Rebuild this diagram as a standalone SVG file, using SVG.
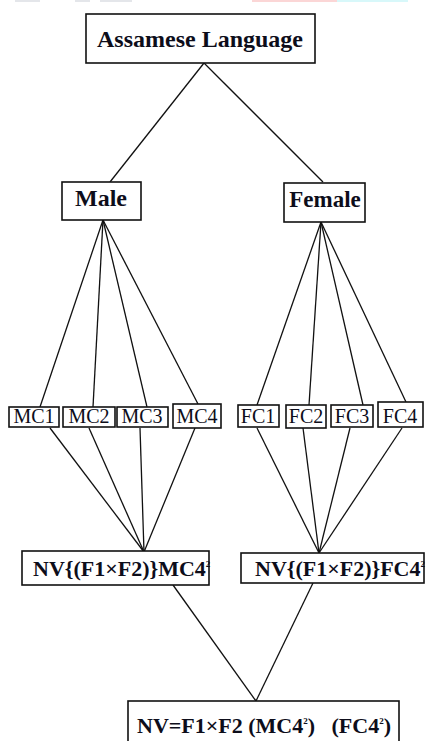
<svg xmlns="http://www.w3.org/2000/svg" width="426" height="741" viewBox="0 0 426 741">
<style>
.box{fill:#fff;stroke:#111;stroke-width:1.6}
.ln{stroke:#111;stroke-width:1.3;fill:none}
.b{font-family:"Liberation Serif","Times New Roman",serif;font-weight:bold;fill:#0d0d1a}
.r{font-family:"Liberation Serif","Times New Roman",serif;fill:#0d0d1a}
</style>
<rect x="0" y="0" width="426" height="741" fill="#fff"/>
<g id="watermark">
<rect x="15" y="0" width="25" height="2" fill="#e4e6ea"/>
<rect x="75" y="0" width="15" height="2" fill="#e4e6ea"/>
<rect x="100" y="0" width="32" height="2" fill="#e4e6ea"/>
<rect x="252" y="0" width="85" height="2" fill="#fbd6d6"/>
<rect x="337" y="0" width="71" height="2" fill="#d8f8fa"/>
</g>
<g id="connectors">
<line class="ln" x1="204" y1="63" x2="110" y2="182"/>
<line class="ln" x1="204" y1="63" x2="323" y2="182"/>
<line class="ln" x1="103" y1="220" x2="40" y2="407"/>
<line class="ln" x1="103" y1="220" x2="93" y2="407"/>
<line class="ln" x1="103" y1="220" x2="147" y2="407"/>
<line class="ln" x1="103" y1="220" x2="198" y2="404"/>
<line class="ln" x1="321" y1="222" x2="257" y2="405"/>
<line class="ln" x1="321" y1="222" x2="309" y2="405"/>
<line class="ln" x1="321" y1="222" x2="363" y2="405"/>
<line class="ln" x1="321" y1="222" x2="406" y2="402"/>
<line class="ln" x1="50" y1="428" x2="144" y2="552"/>
<line class="ln" x1="89" y1="428" x2="144" y2="552"/>
<line class="ln" x1="140" y1="428" x2="144" y2="552"/>
<line class="ln" x1="195" y1="428" x2="144" y2="552"/>
<line class="ln" x1="257" y1="428" x2="319" y2="553"/>
<line class="ln" x1="303" y1="428" x2="319" y2="553"/>
<line class="ln" x1="350" y1="428" x2="319" y2="553"/>
<line class="ln" x1="402" y1="428" x2="319" y2="553"/>
<line class="ln" x1="173" y1="585" x2="256" y2="701"/>
<line class="ln" x1="313" y1="583" x2="256" y2="701"/>
</g>
<g id="assamese">
<rect class="box" x="86" y="14" width="229" height="49"/>
<text class="b" x="200" y="47" font-size="24" text-anchor="middle">Assamese Language</text>
</g>
<g id="male">
<rect class="box" x="62" y="182" width="79" height="38"/>
<text class="b" x="101" y="206" font-size="24" text-anchor="middle">Male</text>
</g>
<g id="female">
<rect class="box" x="284" y="183" width="81" height="39"/>
<text class="b" x="325" y="207" font-size="23" text-anchor="middle">Female</text>
</g>
<g id="mc1">
<rect class="box" x="9" y="407" width="50" height="20"/>
<text class="r" x="34" y="423" font-size="20" text-anchor="middle">MC1</text>
</g>
<g id="mc2">
<rect class="box" x="63" y="407" width="52" height="20"/>
<text class="r" x="89" y="423" font-size="20" text-anchor="middle">MC2</text>
</g>
<g id="mc3">
<rect class="box" x="117" y="407" width="51" height="20"/>
<text class="r" x="142" y="423" font-size="20" text-anchor="middle">MC3</text>
</g>
<g id="mc4">
<rect class="box" x="173" y="404" width="48" height="24"/>
<text class="r" x="197" y="423" font-size="20" text-anchor="middle">MC4</text>
</g>
<g id="fc1">
<rect class="box" x="238" y="405" width="41" height="22"/>
<text class="r" x="258" y="423" font-size="20" text-anchor="middle">FC1</text>
</g>
<g id="fc2">
<rect class="box" x="286" y="405" width="40" height="23"/>
<text class="r" x="306" y="423" font-size="20" text-anchor="middle">FC2</text>
</g>
<g id="fc3">
<rect class="box" x="331" y="405" width="42" height="22"/>
<text class="r" x="352" y="423" font-size="20" text-anchor="middle">FC3</text>
</g>
<g id="fc4">
<rect class="box" x="378" y="402" width="45" height="25"/>
<text class="r" x="400" y="423" font-size="20" text-anchor="middle">FC4</text>
</g>
<g id="nv-male">
<rect class="box" x="22" y="551" width="187" height="34"/>
<text class="b" x="33" y="576" font-size="22">NV{(F1×F2)}MC4<tspan font-size="9" dy="-9">2</tspan></text>
</g>
<g id="nv-female">
<rect class="box" x="241" y="553" width="183" height="30"/>
<text class="b" x="255" y="576" font-size="22">NV{(F1×F2)}FC4<tspan font-size="9" dy="-9">2</tspan></text>
</g>
<g id="nv-total">
<rect class="box" x="128" y="701" width="271" height="44"/>
<text class="b" x="137" y="733" font-size="22" xml:space="preserve">NV=F1×F2 (MC4<tspan font-size="9" dy="-9">2</tspan><tspan dy="9">)   (FC4</tspan><tspan font-size="9" dy="-9">2</tspan><tspan dy="9">)</tspan></text>
</g>
</svg>
